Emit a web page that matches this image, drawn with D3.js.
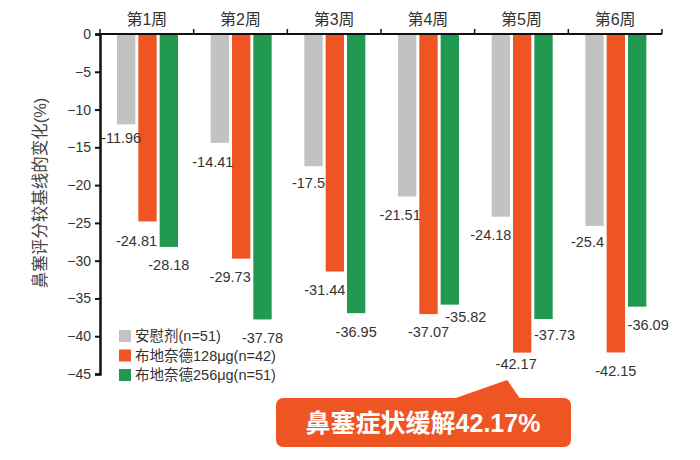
<!DOCTYPE html>
<html>
<head>
<meta charset="utf-8">
<script src="https://cdn.jsdelivr.net/npm/d3@7"></script>
<style>
  body { margin: 0; background: #fff; }
  svg text { font-family: "Liberation Sans", Arial, "Noto Sans CJK SC", sans-serif; }
</style>
</head>
<body>
<svg id="canvas" width="700" height="460"></svg>
<script>
const weeks = ["第1周", "第2周", "第3周", "第4周", "第5周", "第6周"];
const seriesNames = ["安慰剂(n=51)", "布地奈德128μg(n=42)", "布地奈德256μg(n=51)"];
const placebo = [-11.96, -14.41, -17.5, -21.51, -24.18, -25.4];
const bud128 = [-24.81, -29.73, -31.44, -37.07, -42.17, -42.15];
const bud256 = [-28.18, -37.78, -36.95, -35.82, -37.73, -36.09];
const yTicks = [0, -5, -10, -15, -20, -25, -30, -35, -40, -45];
const yTitle = "鼻塞评分较基线的变化(%)";
const calloutText = "鼻塞症状缓解42.17%";

const colors = ["#c2c2c2", "#ef5523", "#219950"];
// hand placed label nudges, as in the original slide [dx, dy]
const labelShift = [
  [[-5, 14], [-7, 19], [-5, 17], [-7, 18], [-10, 18], [-7, 16]],
  [[-11, 19], [-11, 18], [-10, 18], [0, 18], [-6, 11], [0, 18]],
  [[0, 18], [0, 18], [0, 19], [16, 12], [11, 16], [11, 18]]
];

const svg = d3.select("#canvas");
const plotLeft = 100, plotRight = 662, plotTop = 34, plotBottom = 374;
const series = [placebo, bud128, bud256];

const x = d3.scaleBand().domain(weeks).range([plotLeft, plotRight]);
const xs = d3.scaleBand().domain([0, 1, 2]).range([17, 78]).paddingInner(0.14);
const y = d3.scaleLinear().domain([0, -45]).range([plotTop, plotBottom]);

// bars
series.forEach((vals, s) => {
  svg.append("g")
    .selectAll("rect")
    .data(vals)
    .enter()
    .append("rect")
    .attr("x", (d, i) => x(weeks[i]) + xs(s))
    .attr("y", y(0))
    .attr("width", xs.bandwidth())
    .attr("height", (d) => y(d) - y(0))
    .attr("fill", colors[s]);
});

// value labels
series.forEach((vals, s) => {
  svg.append("g")
    .selectAll("text")
    .data(vals)
    .enter()
    .append("text")
    .attr("x", (d, i) => x(weeks[i]) + xs(s) + xs.bandwidth() / 2 + labelShift[s][i][0])
    .attr("y", (d, i) => y(d) + labelShift[s][i][1])
    .attr("dy", "0.35em")
    .attr("text-anchor", "middle")
    .attr("font-size", 14.5)
    .attr("fill", "#333")
    .text((d) => d);
});

// top axis with week labels
const xAxis = svg.append("g")
  .attr("transform", `translate(0,${plotTop})`)
  .call(d3.axisTop(x).tickSize(0).tickPadding(9));
xAxis.select(".domain").attr("stroke", "#111").attr("stroke-width", 2).attr("d", `M${plotLeft},0H${plotRight}`);
xAxis.selectAll("text").attr("font-size", 16).attr("fill", "#333");
svg.append("g")
  .selectAll("line")
  .data(weeks.concat(["end"]))
  .enter()
  .append("line")
  .attr("x1", (d, i) => (i < weeks.length ? x(d) : plotRight))
  .attr("x2", (d, i) => (i < weeks.length ? x(d) : plotRight))
  .attr("y1", plotTop)
  .attr("y2", plotTop - 5)
  .attr("stroke", "#111")
  .attr("stroke-width", 1.5);

// left axis
const yAxis = svg.append("g")
  .attr("transform", `translate(${plotLeft},0)`)
  .call(d3.axisLeft(y).tickValues(yTicks).tickSize(5).tickPadding(4));
yAxis.select(".domain").attr("stroke", "#111").attr("stroke-width", 2.5);
yAxis.selectAll(".tick line").attr("stroke", "#111").attr("stroke-width", 2);
yAxis.selectAll("text").attr("font-size", 14).attr("fill", "#333");

svg.append("text")
  .attr("transform", "translate(40,193) rotate(-90)")
  .attr("text-anchor", "middle")
  .attr("dy", "0.35em")
  .attr("font-size", 16.5)
  .attr("fill", "#444")
  .text(yTitle);

// legend
const legend = svg.append("g").attr("transform", "translate(119,330)");
seriesNames.forEach((name, i) => {
  const row = legend.append("g").attr("transform", `translate(0,${i * 19.5})`);
  row.append("rect").attr("width", 12).attr("height", 12).attr("fill", colors[i]);
  row.append("text")
    .attr("x", 16)
    .attr("y", 6)
    .attr("dy", "0.35em")
    .attr("font-size", 14.5)
    .attr("fill", "#333")
    .text(name);
});

// callout
const call = svg.append("g");
const peakX = x(weeks[4]) + xs(1) + xs.bandwidth() / 2 - 15;
call.append("path")
  .attr("d", `M450,400 L${peakX},380 L521,400 Z`)
  .attr("fill", colors[1]);
call.append("rect")
  .attr("x", 276)
  .attr("y", 398)
  .attr("width", 295)
  .attr("height", 49)
  .attr("rx", 7)
  .attr("fill", colors[1]);
call.append("text")
  .attr("x", 423)
  .attr("y", 423)
  .attr("dy", "0.35em")
  .attr("text-anchor", "middle")
  .attr("font-size", 25)
  .attr("font-weight", "bold")
  .attr("fill", "#fff")
  .text(calloutText);
</script>
</body>
</html>
